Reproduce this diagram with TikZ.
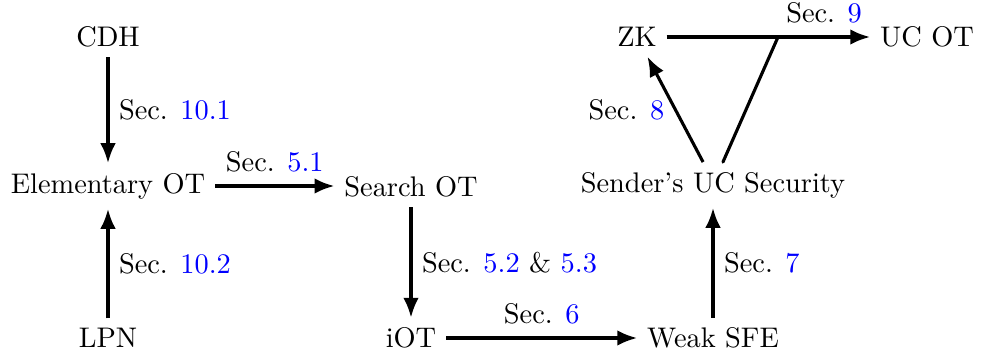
\documentclass[tikz,border=0pt]{standalone}
\usetikzlibrary{arrows.meta}
\begin{document}
\begin{tikzpicture}[x=0.3525pt,y=-0.3525pt,
  arr/.style={line width=1.1pt,-{Latex[length=7pt,width=5.5pt]}},
  seg/.style={line width=1.1pt}]
\useasboundingbox (0,0) rectangle (990,356);
\node (cdh) at (108,37) {CDH};
\node (eot) at (108,186) {Elementary OT};
\node (lpn) at (108,338) {LPN};
\node (sot) at (411,187) {Search OT};
\node (iot) at (411,338) {iOT};
\node (sfe) at (713,338) {Weak SFE};
\node (suc) at (713,185) {Sender's UC Security};
\node (zk) at (637,37) {ZK};
\node (uot) at (927,37) {UC OT};
\coordinate (j) at (778,37);
\newcommand{\sref}[1]{Sec. \textcolor{blue}{#1}}
\draw[arr] (cdh) -- node[right]{\sref{10.1}} (eot);
\draw[arr] (lpn) -- node[right]{\sref{10.2}} (eot);
\draw[arr] (eot.east) -- node[above,yshift=1pt]{\sref{5.1}} (eot.east -| sot.west);
\draw[arr] (sot) -- node[right]{Sec. \textcolor{blue}{5.2} \& \textcolor{blue}{5.3}} (iot);
\draw[arr] (iot) -- node[above,yshift=1pt]{\sref{6}} (sfe);
\draw[arr] (sfe) -- node[right]{\sref{7}} (suc);
\draw[arr] ([xshift=-3.5pt]suc.north) -- node[left]{\sref{8}} (zk);
\draw[seg] (zk) -- (j);
\draw[arr] (j) -- node[above,yshift=1pt]{\sref{9}} (uot);
\draw[seg,line cap=round] ([xshift=3.5pt]suc.north) -- (j);
\end{tikzpicture}
\end{document}
